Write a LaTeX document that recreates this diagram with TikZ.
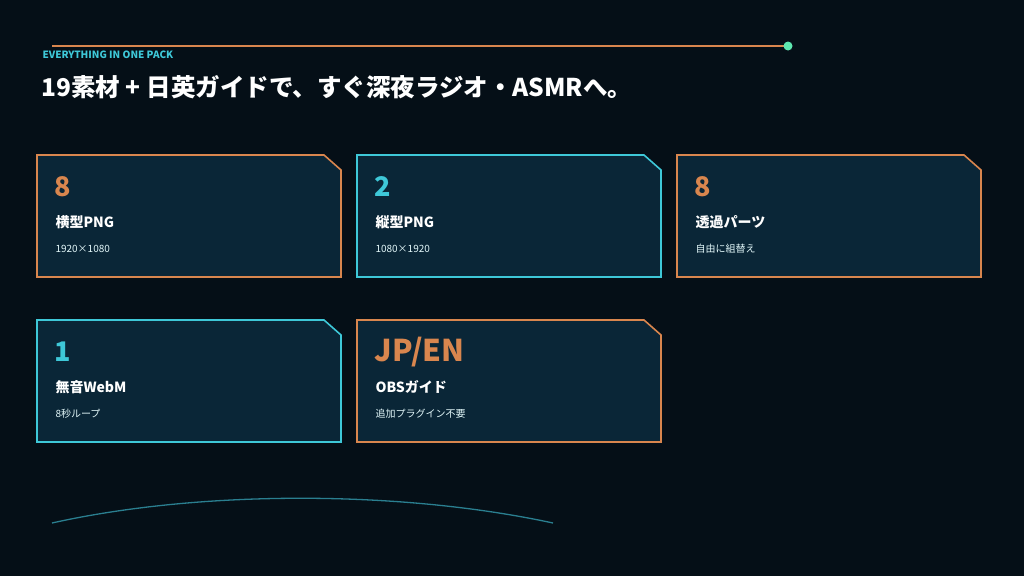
\documentclass[tikz,border=0pt]{standalone}
\usepackage{fontspec}
\usetikzlibrary{calc}
\setmainfont{Noto Sans CJK JP}
\begin{document}
\definecolor{bg}{HTML}{050F17}
\definecolor{cardfill}{HTML}{0A2637}
\definecolor{org}{HTML}{D9864E}
\definecolor{cyn}{HTML}{3EC8D8}
\definecolor{grn}{HTML}{5EE8B0}
\definecolor{arc}{HTML}{2A7F90}
\begin{tikzpicture}[x=1pt,y=-1pt,
  card/.style={fill=cardfill,line width=1.6pt},
  num/.style={anchor=west,font=\fontsize{27}{28}\selectfont\bfseries},
  ttl/.style={anchor=west,text=white,font=\fontsize{14}{16}\selectfont\bfseries},
  sub/.style={anchor=west,text=white!85!cyn,font=\fontsize{10}{11}\selectfont}]
\fill[bg] (0,0) rectangle (1024,576);
\useasboundingbox (0,0) rectangle (1024,576);
\coordinate (l0) at (52,46); \coordinate (l1) at (788,46);
\draw[org,line width=2pt] (l0) -- (l1);
\fill[grn] (l1) circle (4.5);
\node[anchor=west,text=cyn,font=\fontsize{10}{10}\selectfont\bfseries] (lab) at (39,55) {EVERYTHING IN ONE PACK};
\node[anchor=west,text=white,font=\fontsize{24.5}{26}\selectfont\bfseries] (head) at (38,87) {19素材 + 日英ガイドで、すぐ深夜ラジオ・ASMRへ。};
\newcommand\mycard[7]{%
  \draw[card,draw=#3] (#1,#2) -- ++(287,0) -- ++(17,15) -- ++(0,107) -- ++(-304,0) -- cycle;
  \node[num,text=#3] (n#7) at ($(#1,#2)+(14,32)$) {#4};
  \node[ttl] (t#7) at ($(#1,#2)+(15,67)$) {#5};
  \node[sub] (s#7) at ($(#1,#2)+(15,94)$) {#6};}
\mycard{37}{155}{org}{8}{横型PNG}{1920×1080}{a}
\mycard{357}{155}{cyn}{2}{縦型PNG}{1080×1920}{b}
\mycard{677}{155}{org}{8}{透過パーツ}{自由に組替え}{c}
\mycard{37}{320}{cyn}{1}{無音WebM}{8秒ループ}{d}
\mycard{357}{320}{org}{\fontsize{30}{32}\selectfont JP/EN}{OBSガイド}{追加プラグイン不要}{e}
\coordinate (a0) at (52,523); \coordinate (a1) at (553,523);
\draw[arc,line width=1.3pt] (a0) .. controls (200,490) and (400,490) .. (a1);
\end{tikzpicture}
\end{document}
